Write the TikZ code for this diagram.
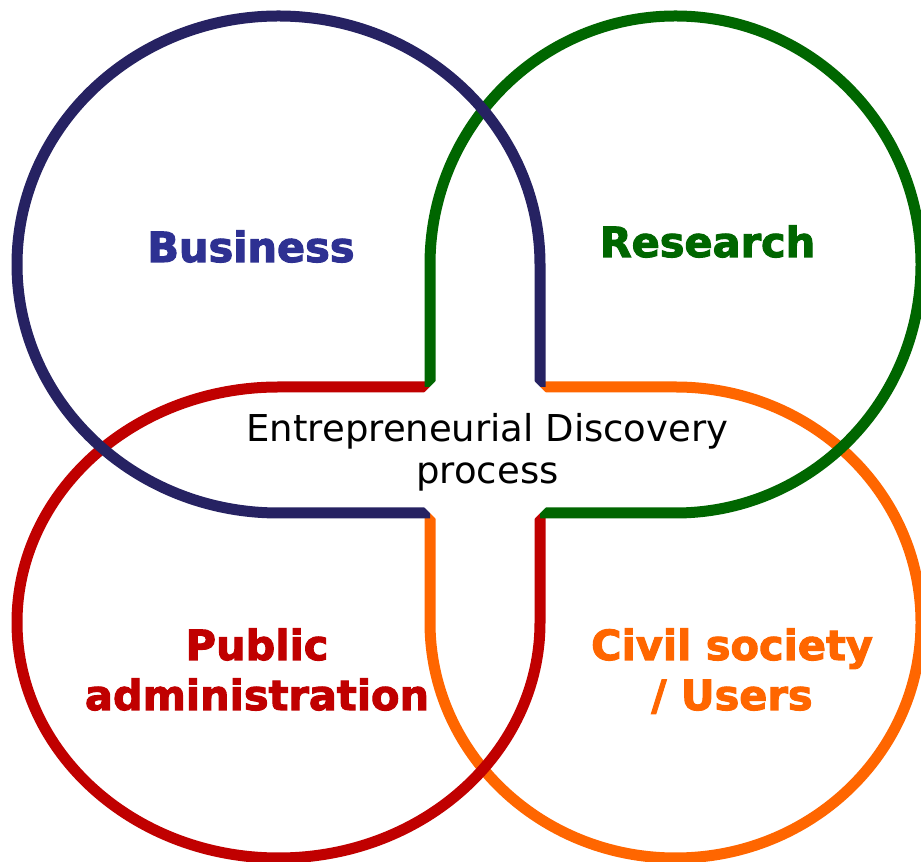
\documentclass[tikz,border=0pt]{standalone}
\usepackage{fontspec}
\setmainfont{DejaVu Sans}[BoldFeatures={FakeBold=2.5}]
\usetikzlibrary{calc}
\definecolor{navyL}{HTML}{262262}
\definecolor{navyT}{HTML}{2E3192}
\definecolor{greenL}{HTML}{006600}
\definecolor{redL}{HTML}{C00000}
\definecolor{orangeL}{HTML}{FF6600}
\begin{document}
\begin{tikzpicture}[x=1pt,y=1pt,
  ring/.style={line width=11pt, line cap=butt, line join=round},
  lbl/.style={font=\fontsize{41.5}{50}\selectfont\bfseries, align=center, anchor=base, inner sep=0pt},
  mid/.style={font=\fontsize{37}{42}\selectfont, align=center, anchor=base, inner sep=0pt},
  notch/.style={fill=white, draw=none}]
\clip (0,0) rectangle (921,862);
\fill[white] (0,0) rectangle (921,862);
\coordinate (A) at (430,475);
\coordinate (B) at (540,475);
\coordinate (C) at (430,349);
\coordinate (D) at (540,349);
% Civil society / Users
\draw[ring, draw=orangeL] (B) -- (675.5,475) arc[start angle=90, end angle=-180, x radius=245.5, y radius=235.5] -- (C);
% Public administration
\draw[ring, draw=redL] (A) -- (278.5,475) arc[start angle=90, end angle=360, x radius=261.5, y radius=235.5] -- (D);
% Research
\draw[ring, draw=greenL] (A) -- (430,597.5) arc[start angle=180, end angle=-90, x radius=245.5, y radius=248.5] -- (D);
% Business
\draw[ring, draw=navyL] (C) -- (278.5,349) arc[start angle=270, end angle=0, x radius=261.5, y radius=248.5] -- (B);
% bevelled corners
\fill[notch] ($(A)+(-7,-7)$) -- ($(A)+(7,7)$) -- ($(A)+(8,-8)$) -- cycle;
\fill[notch] ($(B)+(-7,7)$) -- ($(B)+(7,-7)$) -- ($(B)+(-8,-8)$) -- cycle;
\fill[notch] ($(C)+(7,-7)$) -- ($(C)+(-7,7)$) -- ($(C)+(8,8)$) -- cycle;
\fill[notch] ($(D)+(7,7)$) -- ($(D)+(-7,-7)$) -- ($(D)+(-8,8)$) -- cycle;
% labels
\node[lbl, text=navyT] (business) at (251,600) {Business};
\node[lbl, text=greenL] (research) at (707.5,605) {Research};
\node[lbl, text=redL] (public) at (257,152) {Public\\administration};
\node[lbl, text=orangeL] (civil) at (732,152) {Civil society\\/ Users};
\node[mid] (edp) at (487.5,378) {Entrepreneurial Discovery\\process};
\end{tikzpicture}
\end{document}
